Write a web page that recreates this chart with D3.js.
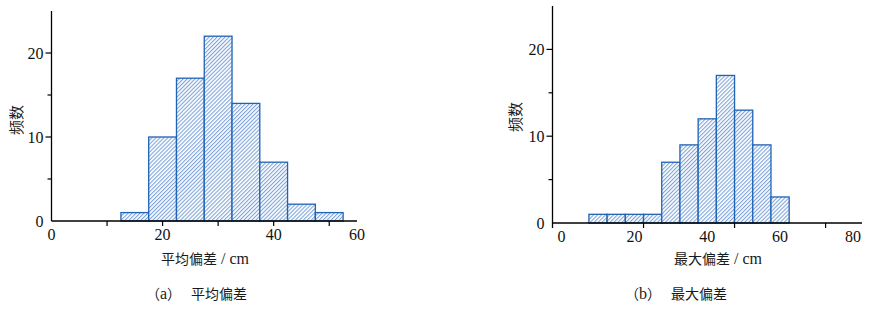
<!DOCTYPE html>
<html>
<head>
<meta charset="utf-8">
<script src="https://cdn.jsdelivr.net/npm/d3@7"></script>
<style>
  body { margin: 0; background: #fff; }
  svg { display: block; }
  .tick-label { font-family: "Liberation Serif", "Times New Roman", serif; font-size: 16px; fill: #111; }
  .cjk { font-family: "Noto Sans CJK SC", sans-serif; font-size: 14px; fill: #1a1a1a; }
  .ytitle { font-size: 15px; }
  .unit { font-family: "Liberation Serif", serif; font-size: 16px; }
</style>
</head>
<body>
<svg id="chart" width="873" height="312"></svg>
<script>
// (a) mean deviation histogram: bins of width 5
const meanBinStarts = [12.5, 17.5, 22.5, 27.5, 32.5, 37.5, 42.5, 47.5];
const meanCounts = [1, 10, 17, 22, 14, 7, 2, 1];
const meanTickLabels = ['0', '20', '40', '60'];

// (b) max deviation histogram
const maxBinStarts = [7.5, 12.5, 17.5, 22.5, 27.5, 32.5, 37.5, 42.5, 47.5, 52.5, 57.5];
const maxCounts = [1, 1, 1, 1, 7, 9, 12, 17, 13, 9, 3];
const maxTickLabels = ['0', '20', '40', '60', '80'];

const yMajor = [0, 10, 20];
const yMinor = [5, 15];
const binWidth = 5;

const BAR_STROKE = '#1f63b3';
const HATCH = '#7fa4da';

const svg = d3.select('#chart');

// hatch pattern, thin "/" stripes
const defs = svg.append('defs');
const pat = defs.append('pattern')
  .attr('id', 'hatch')
  .attr('patternUnits', 'userSpaceOnUse')
  .attr('width', 2.8)
  .attr('height', 2.8)
  .attr('patternTransform', 'rotate(45)');
pat.append('rect').attr('width', 2.8).attr('height', 2.8).attr('fill', '#fff');
pat.append('line')
  .attr('x1', 0).attr('y1', 0).attr('x2', 0).attr('y2', 2.8)
  .attr('stroke', HATCH).attr('stroke-width', 2.2);

/**
 * Draw one histogram panel
 */
function drawPanel(cfg) {
  const g = svg.append('g');
  const x = d3.scaleLinear().domain(cfg.xDomain).range(cfg.xRange);
  const y = d3.scaleLinear().domain([0, 25]).range(cfg.yRange);

  // bars
  g.append('g')
    .selectAll('rect')
    .data(cfg.starts.map((s, i) => ({ s: s, c: cfg.counts[i] })))
    .enter()
    .append('rect')
    .attr('x', d => x(d.s))
    .attr('y', d => y(d.c))
    .attr('width', d => x(d.s + binWidth) - x(d.s))
    .attr('height', d => y(0) - y(d.c))
    .attr('fill', 'url(#hatch)')
    .attr('stroke', BAR_STROKE)
    .attr('stroke-width', 1.3);

  // y axis
  const yAxis = g.append('g').attr('transform', `translate(${cfg.xRange[0]},0)`);
  yAxis.append('line')
    .attr('x1', 0).attr('x2', 0)
    .attr('y1', y(25)).attr('y2', y(0) + cfg.yAxisExtra)
    .attr('stroke', '#000').attr('stroke-width', 1.3);
  yAxis.selectAll('.maj').data(yMajor.filter(v => v > 0)).enter().append('line')
    .attr('x1', -6).attr('x2', 0)
    .attr('y1', d => y(d)).attr('y2', d => y(d))
    .attr('stroke', '#000').attr('stroke-width', 1.2);
  yAxis.selectAll('.min').data(yMinor).enter().append('line')
    .attr('x1', -4).attr('x2', 0)
    .attr('y1', d => y(d)).attr('y2', d => y(d))
    .attr('stroke', '#000').attr('stroke-width', 1.2);
  yAxis.selectAll('text').data(yMajor).enter().append('text')
    .attr('class', 'tick-label')
    .attr('x', -8)
    .attr('y', d => y(d))
    .attr('dy', '0.35em')
    .attr('text-anchor', 'end')
    .text(d => d);

  // x axis
  const xAxis = g.append('g').attr('transform', `translate(0,${y(0)})`);
  xAxis.append('line')
    .attr('x1', cfg.xRange[0]).attr('x2', cfg.xRange[1])
    .attr('y1', 0).attr('y2', 0)
    .attr('stroke', '#000').attr('stroke-width', 1.3);
  xAxis.selectAll('.xt').data(cfg.xTicks).enter().append('line')
    .attr('x1', d => x(d)).attr('x2', d => x(d))
    .attr('y1', 0).attr('y2', 5)
    .attr('stroke', '#000').attr('stroke-width', 1.2);
  xAxis.selectAll('text').data(cfg.labels).enter().append('text')
    .attr('class', 'tick-label')
    .attr('x', (d, i) => cfg.labelX(d, i, x))
    .attr('y', 19)
    .attr('text-anchor', 'middle')
    .text(d => d);

  // axis titles
  g.append('text')
    .attr('class', 'cjk ytitle')
    .attr('transform', `translate(${cfg.yTitleX},${cfg.yTitleY}) rotate(-90)`)
    .attr('text-anchor', 'middle')
    .attr('dy', '0.35em')
    .text('频数');

  const xt = g.append('text')
    .attr('class', 'cjk')
    .attr('x', cfg.xTitleX)
    .attr('y', 259)
    .attr('dy', '0.35em')
    .attr('text-anchor', 'middle');
  xt.append('tspan').text(cfg.xTitle);
  xt.append('tspan').attr('class', 'unit').text(' / cm');

  // caption
  const cap = g.append('text')
    .attr('class', 'cjk')
    .attr('x', cfg.capX)
    .attr('y', 294)
    .attr('dy', '0.35em');
  cap.append('tspan').text('（');
  cap.append('tspan').attr('class', 'unit').attr('font-size', '15px').text(cfg.capLetter);
  cap.append('tspan').text('）');
  cap.append('tspan').attr('dx', 10).text(cfg.xTitle);
}

// (a)
drawPanel({
  starts: meanBinStarts,
  counts: meanCounts,
  xDomain: [0, 55],
  xRange: [51.5, 357],
  yRange: [221, 11],
  yAxisExtra: 0,
  xTicks: [10, 20, 30, 40, 50],
  labels: meanTickLabels,
  // the last label sits at the axis end, as in the source figure
  labelX: (d, i, x) => i === meanTickLabels.length - 1 ? x.range()[1] : x(+d),
  yTitleX: 17,
  yTitleY: 120,
  xTitleX: 205,
  xTitle: '平均偏差',
  capX: 146,
  capLetter: 'a'
});

// (b)
drawPanel({
  starts: maxBinStarts,
  counts: maxCounts,
  xDomain: [-2.5, 82.5],
  xRange: [552.5, 862],
  yRange: [223, 6],
  yAxisExtra: 5,
  xTicks: [22.5, 47.5, 72.5],
  labels: maxTickLabels,
  labelX: (d, i, x) => x(+d),
  yTitleX: 516,
  yTitleY: 117,
  xTitleX: 718,
  xTitle: '最大偏差',
  capX: 625,
  capLetter: 'b'
});
</script>
</body>
</html>
